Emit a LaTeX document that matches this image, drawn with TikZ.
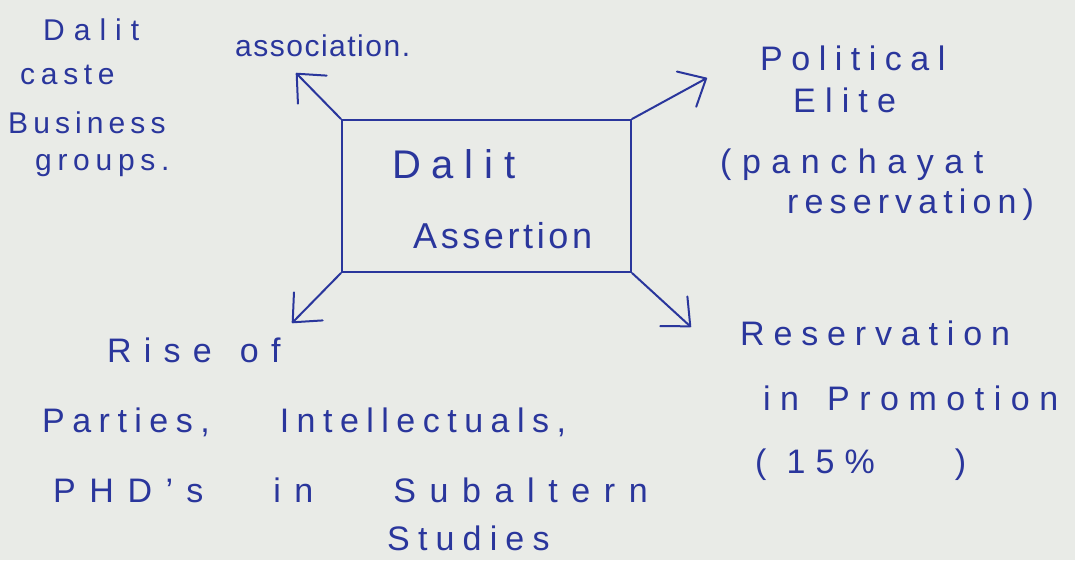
\documentclass[tikz,border=0pt]{standalone}
\usepackage{fontspec}
\setmainfont{Liberation Sans}
\usetikzlibrary{arrows.meta}
\definecolor{ink}{RGB}{42,54,156}
\definecolor{paper}{RGB}{233,235,231}
\begin{document}
\begin{tikzpicture}[x=1pt,y=-1pt,
  lbl/.style 2 args={text=ink,inner sep=0pt,anchor=base west,
    font=\fontsize{#1}{#1}\selectfont\addfontfeature{LetterSpace=#2}},
  edge/.style={draw=ink,line width=2pt,line cap=round,
    -{Straight Barb[angle=84:30pt,line width=2pt,round]}}]
\fill[paper] (0,0) rectangle (1075,560);
\useasboundingbox (0,0) rectangle (1075,560);
% central box
\node[draw=ink,line width=2pt,minimum width=289pt,minimum height=152pt,inner sep=0pt] (box) at (486.5,196) {};
\node[lbl={40}{27}] (d1) at (392,178) {Dalit};
\node[lbl={36}{10}] (d2) at (413,248) {Assertion};
% arrow ends
\coordinate (nw) at (296,73);
\coordinate (ne) at (707,78);
\coordinate (sw) at (292,323);
\coordinate (se) at (691,327);
\draw[edge] (box.north west) -- (nw);
\draw[edge] (box.north east) -- (ne);
\draw[edge] (box.south west) -- (sw);
\draw[edge] (box.south east) -- (se);
% top left
\node[lbl={30}{30}] (t1) at (43,40) {Dalit};
\node[lbl={30}{19}] (t2) at (20,84) {caste};
\node[lbl={30}{17}] (t3) at (8,133) {Business};
\node[lbl={30}{19}] (t4) at (35,170) {groups.};
\node[lbl={30}{5}] (assoc) at (235,56) {association.};
% top right
\node[lbl={34}{25}] (p1) at (760,70) {Political};
\node[lbl={34}{27}] (p2) at (793,112) {Elite};
\node[lbl={34}{31}] (p3) at (720,173) {(panchayat};
\node[lbl={34}{18}] (p4) at (787,213) {reservation)};
% bottom left
\node[lbl={34}{36}] (r1) at (107,362) {Rise\hspace{28pt}of};
\node[lbl={34}{22}] (r2) at (42,432) {Parties,\hspace{70pt}Intellectuals,};
\node[lbl={34}{40}] (r3) at (53,502) {PHD's\hspace{70pt}in\hspace{80pt}Subaltern};
\node[lbl={34}{24}] (r4) at (387,550) {Studies};
% bottom right
\node[lbl={34}{26}] (q1) at (740,345) {Reservation};
\node[lbl={34}{28}] (q2) at (763,410) {in\hspace{28pt}Promotion};
\node[lbl={34}{30}] (q3) at (755,473) {(\hspace{20pt}15\%\hspace{80pt})};
\end{tikzpicture}
\end{document}
